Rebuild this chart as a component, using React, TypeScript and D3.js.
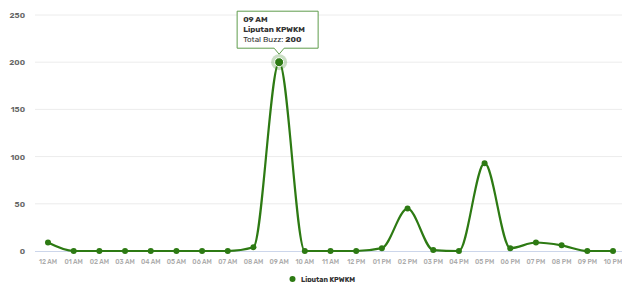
import React from "react";
import * as d3 from "d3";

const hours = [
  "12 AM", "01 AM", "02 AM", "03 AM", "04 AM", "05 AM", "06 AM", "07 AM",
  "08 AM", "09 AM", "10 AM", "11 AM", "12 PM", "01 PM", "02 PM", "03 PM",
  "04 PM", "05 PM", "06 PM", "07 PM", "08 PM", "09 PM", "10 PM",
];
const buzz = [9, 0, 0, 0, 0, 0, 0, 0, 4, 200, 0, 0, 0, 3, 45, 1, 0, 93, 3, 9, 6, 0, 0];
const yTicks = [0, 50, 100, 150, 200, 250];
const seriesName = "Liputan KPWKM";
const hoverIndex = 9;

const W = 622;
const H = 282;
const font = "Rubik, 'Noto Sans', Inter, sans-serif";
const green = "#2d7a13";

const App: React.FC = () => {
  const x = d3.scalePoint<string>().domain(hours).range([48, 613]);
  const y = d3.scaleLinear().domain([0, 250]).range([251, 15]);

  const line = d3
    .line<number>()
    .x((_, i) => x(hours[i]) as number)
    .y((d) => y(d))
    .curve(d3.curveMonotoneX);

  const hx = x(hours[hoverIndex]) as number;
  const hy = y(buzz[hoverIndex]);
  const tipW = 81;
  const tipH = 37;
  const tipX = hx - 42;
  const tipY = hy - 51;

  return (
    <svg
      width={W}
      height={H}
      style={{ position: "absolute", left: 0, top: 0, fontFamily: font }}
    >
      <rect width={W} height={H} fill="#fff" />
      {yTicks.map((t) => (
        <g key={t}>
          {t > 0 && (
            <line x1={35} x2={622} y1={y(t)} y2={y(t)} stroke="#ececec" strokeWidth={1} />
          )}
          <text
            x={25}
            y={y(t) + 3}
            textAnchor="end"
            fontSize={8}
            fontWeight={600}
            fill="#666"
          >
            {t}
          </text>
        </g>
      ))}
      <line x1={35} x2={622} y1={251.5} y2={251.5} stroke="#ccd6eb" strokeWidth={1} />
      {hours.map((h) => (
        <text
          key={h}
          x={x(h)}
          y={264}
          textAnchor="middle"
          fontSize={6.5}
          fontWeight={500}
          fill="#aaa"
        >
          {h}
        </text>
      ))}
      <path d={line(buzz) ?? ""} fill="none" stroke={green} strokeWidth={2.2} />
      {buzz.map((v, i) =>
        i === hoverIndex ? null : (
          <circle key={i} cx={x(hours[i])} cy={y(v)} r={3} fill={green} />
        )
      )}
      <circle cx={hx} cy={hy} r={8} fill={green} opacity={0.25} />
      <circle cx={hx} cy={hy} r={4.5} fill={green} stroke="#fff" strokeWidth={1} />

      <g>
        <path
          d={`M${tipX},${tipY} h${tipW} v${tipH} H${hx + 5} l-5,6 l-5,-6 H${tipX} Z`}
          fill="#fff"
          fillOpacity={0.95}
          stroke="#5f9c4c"
          strokeWidth={1}
        />
        <text x={tipX + 6} y={tipY + 11} fontSize={8} fontWeight={700} fill="#333">
          {hours[hoverIndex]}
        </text>
        <text x={tipX + 6} y={tipY + 21} fontSize={8} fontWeight={700} fill="#333">
          {seriesName}
        </text>
        <text x={tipX + 6} y={tipY + 31} fontSize={8} fill="#333">
          Total Buzz: <tspan fontWeight={700}>{buzz[hoverIndex]}</tspan>
        </text>
      </g>

      <circle cx={292.5} cy={279} r={3} fill={green} />
      <text x={301} y={281.5} fontSize={7} fontWeight={700} fill="#333">
        {seriesName}
      </text>
    </svg>
  );
};

export default App;
